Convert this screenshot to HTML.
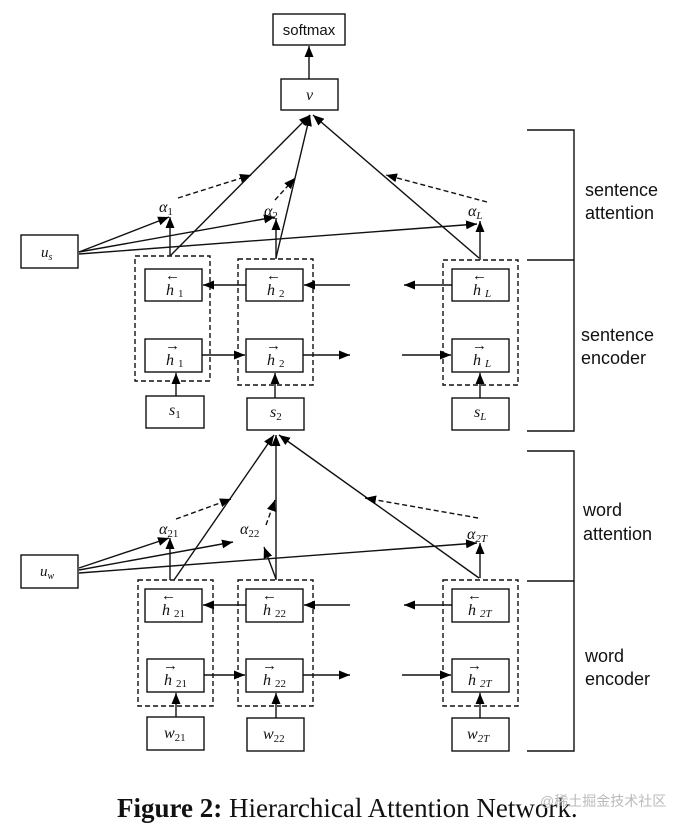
<!DOCTYPE html>
<html><head><meta charset="utf-8"><style>
html,body{margin:0;padding:0;background:#fff;}
svg{display:block;}
.m{font-family:"Liberation Serif",serif;font-style:italic;fill:#111;}
.s{font-family:"Liberation Serif",serif;fill:#111;}
.lab{font-family:"Liberation Sans",sans-serif;font-size:18px;fill:#111;}
.ar{font-size:15px;}
</style></head><body>
<svg width="686" height="830" viewBox="0 0 686 830" xmlns="http://www.w3.org/2000/svg">
<defs>
<marker id="a" markerUnits="userSpaceOnUse" markerWidth="11" markerHeight="9" refX="11" refY="4.5" orient="auto"><path d="M0,0 L11,4.5 L0,9 z" fill="#000"/></marker>
</defs>
<g fill="none" stroke="#111" stroke-width="1.4">
<rect x="273" y="14" width="72" height="31"/>
<rect x="281" y="79" width="57" height="31"/>
<line x1="309" y1="79" x2="309" y2="46" marker-end="url(#a)"/>
<rect x="21" y="235" width="57" height="33"/>
<rect x="145" y="269" width="57" height="32"/><rect x="246" y="269" width="57" height="32"/><rect x="452" y="269" width="57" height="32"/>
<rect x="145" y="339" width="57" height="33"/><rect x="246" y="339" width="57" height="33"/><rect x="452" y="339" width="57" height="33"/>
<rect x="146" y="396" width="58" height="32"/><rect x="247" y="398" width="57" height="32"/><rect x="452" y="398" width="57" height="32"/>
<g stroke-dasharray="5,3"><rect x="135" y="256" width="75" height="125"/><rect x="238" y="259" width="75" height="126"/><rect x="443" y="260" width="75" height="125"/></g>
<line x1="246" y1="285" x2="203" y2="285" marker-end="url(#a)"/>
<line x1="350" y1="285" x2="304" y2="285" marker-end="url(#a)"/>
<line x1="452" y1="285" x2="404" y2="285" marker-end="url(#a)"/>
<line x1="202" y1="355" x2="245" y2="355" marker-end="url(#a)"/>
<line x1="303" y1="355" x2="350" y2="355" marker-end="url(#a)"/>
<line x1="402" y1="355" x2="451" y2="355" marker-end="url(#a)"/>
<line x1="176" y1="396" x2="176" y2="373" marker-end="url(#a)"/>
<line x1="275" y1="398" x2="275" y2="373" marker-end="url(#a)"/>
<line x1="480" y1="398" x2="480" y2="373" marker-end="url(#a)"/>
<line x1="170" y1="256" x2="170" y2="217" marker-end="url(#a)"/>
<line x1="276" y1="259" x2="276" y2="219" marker-end="url(#a)"/>
<line x1="480" y1="260" x2="480" y2="221" marker-end="url(#a)"/>
<line x1="79" y1="252" x2="169" y2="217" marker-end="url(#a)"/>
<line x1="79" y1="252" x2="275" y2="217" marker-end="url(#a)"/>
<line x1="79" y1="254" x2="477" y2="224" marker-end="url(#a)"/>
<line x1="171" y1="255" x2="310" y2="115" marker-end="url(#a)"/>
<line x1="276" y1="258" x2="310" y2="115" marker-end="url(#a)"/>
<line x1="479" y1="258" x2="313" y2="115" marker-end="url(#a)"/>
<g stroke-dasharray="5,3"><line x1="178" y1="198" x2="251" y2="175" marker-end="url(#a)"/>
<line x1="275" y1="200" x2="295" y2="178" marker-end="url(#a)"/>
<line x1="487" y1="202" x2="386" y2="175" marker-end="url(#a)"/></g>
<polyline points="527,130 574,130 574,431 527,431"/>
<line x1="527" y1="260" x2="574" y2="260"/>
<polyline points="527,451 574,451 574,751 527,751"/>
<line x1="527" y1="581" x2="574" y2="581"/>
<rect x="21" y="555" width="57" height="33"/>
<rect x="145" y="589" width="57" height="33"/><rect x="246" y="589" width="57" height="33"/><rect x="452" y="589" width="57" height="33"/>
<rect x="147" y="659" width="57" height="33"/><rect x="246" y="659" width="57" height="33"/><rect x="452" y="659" width="57" height="33"/>
<rect x="147" y="717" width="57" height="33"/><rect x="247" y="718" width="57" height="33"/><rect x="452" y="718" width="57" height="33"/>
<g stroke-dasharray="5,3"><rect x="138" y="580" width="75" height="126"/><rect x="238" y="580" width="75" height="126"/><rect x="443" y="580" width="75" height="126"/></g>
<line x1="246" y1="605" x2="203" y2="605" marker-end="url(#a)"/>
<line x1="350" y1="605" x2="304" y2="605" marker-end="url(#a)"/>
<line x1="452" y1="605" x2="404" y2="605" marker-end="url(#a)"/>
<line x1="204" y1="675" x2="245" y2="675" marker-end="url(#a)"/>
<line x1="303" y1="675" x2="350" y2="675" marker-end="url(#a)"/>
<line x1="402" y1="675" x2="451" y2="675" marker-end="url(#a)"/>
<line x1="176" y1="717" x2="176" y2="693" marker-end="url(#a)"/>
<line x1="276" y1="718" x2="276" y2="693" marker-end="url(#a)"/>
<line x1="480" y1="718" x2="480" y2="693" marker-end="url(#a)"/>
<line x1="170" y1="580" x2="170" y2="538" marker-end="url(#a)"/>
<line x1="276" y1="579" x2="264" y2="547" marker-end="url(#a)"/>
<line x1="480" y1="578" x2="480" y2="543" marker-end="url(#a)"/>
<line x1="79" y1="568" x2="169" y2="538" marker-end="url(#a)"/>
<line x1="79" y1="570" x2="233" y2="542" marker-end="url(#a)"/>
<line x1="79" y1="573" x2="477" y2="543" marker-end="url(#a)"/>
<line x1="174" y1="580" x2="274" y2="435" marker-end="url(#a)"/>
<line x1="276" y1="580" x2="276" y2="435" marker-end="url(#a)"/>
<line x1="479" y1="578" x2="279" y2="435" marker-end="url(#a)"/>
<g stroke-dasharray="5,3"><line x1="176" y1="519" x2="231" y2="499" marker-end="url(#a)"/>
<line x1="266" y1="525" x2="275" y2="500" marker-end="url(#a)"/>
<line x1="478" y1="518" x2="365" y2="498" marker-end="url(#a)"/></g>
</g>
<text x="309" y="35" text-anchor="middle" font-family="Liberation Sans,sans-serif" font-size="15" fill="#111">softmax</text>
<text class="m" x="306" y="100" font-size="16">v</text>
<text class="m" x="41" y="257" font-size="15">u<tspan font-size="10" dy="3">s</tspan></text>
<text class="m" x="40" y="576" font-size="15">u<tspan font-size="10" dy="3">w</tspan></text>
<text class="m" x="159" y="212" font-size="16">α<tspan class="s" font-size="11" dy="3" font-style="normal">1</tspan></text>
<text class="m" x="264" y="216" font-size="16">α<tspan class="s" font-size="11" dy="3" font-style="normal">2</tspan></text>
<text class="m" x="468" y="216" font-size="16">α<tspan font-size="11" dy="3">L</tspan></text>
<text class="m" x="159" y="534" font-size="16">α<tspan font-size="11" dy="3" font-style="normal">21</tspan></text>
<text class="m" x="240" y="534" font-size="16">α<tspan font-size="11" dy="3" font-style="normal">22</tspan></text>
<text class="m" x="467" y="539" font-size="16">α<tspan font-size="11" dy="3">2T</tspan></text>
<g font-family="Liberation Serif,serif" fill="#111">
<text class="ar" x="165" y="280">←</text><text class="m" x="166" y="295" font-size="16">h</text><text x="178" y="297" font-size="11">1</text>
<text class="ar" x="266" y="280">←</text><text class="m" x="267" y="295" font-size="16">h</text><text x="279" y="297" font-size="11">2</text>
<text class="ar" x="472" y="280">←</text><text class="m" x="473" y="295" font-size="16">h</text><text class="m" x="485" y="297" font-size="11">L</text>
<text class="ar" x="165" y="350">→</text><text class="m" x="166" y="365" font-size="16">h</text><text x="178" y="367" font-size="11">1</text>
<text class="ar" x="266" y="350">→</text><text class="m" x="267" y="365" font-size="16">h</text><text x="279" y="367" font-size="11">2</text>
<text class="ar" x="472" y="350">→</text><text class="m" x="473" y="365" font-size="16">h</text><text class="m" x="485" y="367" font-size="11">L</text>
<text class="m" x="169" y="415" font-size="16">s<tspan font-size="11" dy="3" font-style="normal">1</tspan></text>
<text class="m" x="270" y="417" font-size="16">s<tspan font-size="11" dy="3" font-style="normal">2</tspan></text>
<text class="m" x="474" y="417" font-size="16">s<tspan font-size="11" dy="3">L</tspan></text>
<text class="ar" x="161" y="600">←</text><text class="m" x="162" y="615" font-size="16">h</text><text x="174" y="617" font-size="11">21</text>
<text class="ar" x="262" y="600">←</text><text class="m" x="263" y="615" font-size="16">h</text><text x="275" y="617" font-size="11">22</text>
<text class="ar" x="467" y="600">←</text><text class="m" x="468" y="615" font-size="16">h</text><text class="m" x="480" y="617" font-size="11">2T</text>
<text class="ar" x="163" y="670">→</text><text class="m" x="164" y="685" font-size="16">h</text><text x="176" y="687" font-size="11">21</text>
<text class="ar" x="262" y="670">→</text><text class="m" x="263" y="685" font-size="16">h</text><text x="275" y="687" font-size="11">22</text>
<text class="ar" x="467" y="670">→</text><text class="m" x="468" y="685" font-size="16">h</text><text class="m" x="480" y="687" font-size="11">2T</text>
<text class="m" x="164" y="738" font-size="16">w<tspan font-size="11" dy="3" font-style="normal">21</tspan></text>
<text class="m" x="263" y="739" font-size="16">w<tspan font-size="11" dy="3" font-style="normal">22</tspan></text>
<text class="m" x="467" y="739" font-size="16">w<tspan font-size="11" dy="3">2T</tspan></text>
</g>
<text class="lab" x="585" y="196">sentence</text>
<text class="lab" x="585" y="219">attention</text>
<text class="lab" x="581" y="341">sentence</text>
<text class="lab" x="581" y="364">encoder</text>
<text class="lab" x="583" y="516">word</text>
<text class="lab" x="583" y="540">attention</text>
<text class="lab" x="585" y="662">word</text>
<text class="lab" x="585" y="685">encoder</text>
<text x="117" y="817" font-family="Liberation Serif,serif" font-size="27" fill="#111"><tspan font-weight="bold">Figure 2:</tspan> Hierarchical Attention Network.</text>
<text x="540" y="806" font-family="Liberation Sans,Noto Sans CJK SC,sans-serif" font-size="14" fill="#bbb">@稀土掘金技术社区</text>
</svg>
</body></html>
